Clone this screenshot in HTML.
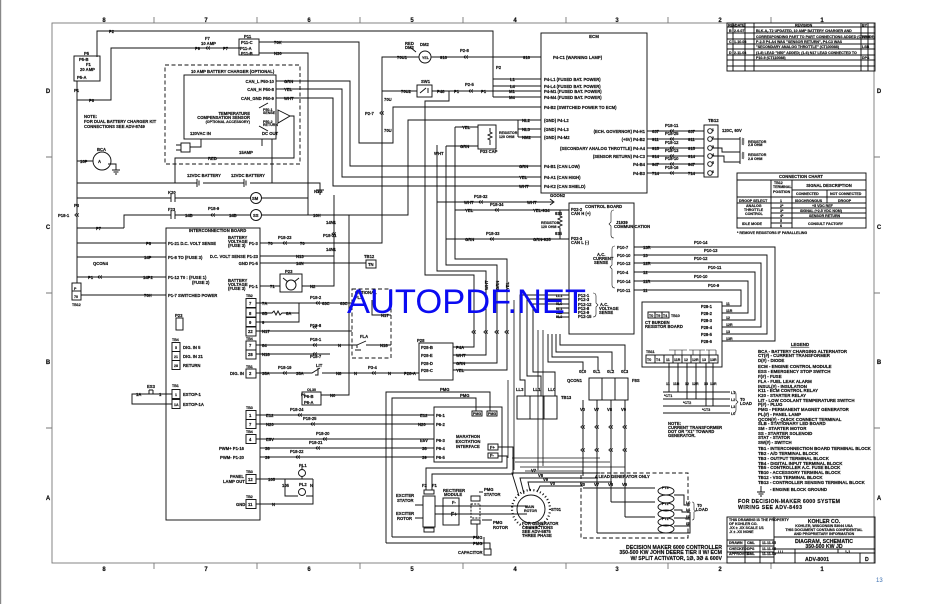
<!DOCTYPE html>
<html><head><meta charset="utf-8"><style>
html,body{margin:0;padding:0;background:#fff;}
svg{display:block;}
text{font-family:"Liberation Sans",sans-serif;font-weight:bold;font-size:4.2px;fill:#111;stroke:#111;stroke-width:0.18px;}
.s{font-size:3.6px;}
.m{font-size:5.2px;}
.l{font-size:4.4px;}
.g{font-size:6px;font-weight:bold;}
.wm{font-family:"Liberation Sans",sans-serif;font-weight:normal;font-size:34.5px;fill:#0b0bf2;stroke:none;}
.pn{font-size:6px;fill:#3b6fb0;font-weight:normal;stroke:none;}
</style></head><body>
<svg width="935" height="604" viewBox="0 0 935 604" xmlns="http://www.w3.org/2000/svg">
<defs>
<symbol id="fz" viewBox="-3 -2 6 4" width="6" height="4" overflow="visible"><path d="M-0.5,-1.6 L-2.2,0 L-0.5,1.6 M1.8,-1.6 L0.1,0 L1.8,1.6" fill="none" stroke="#111" stroke-width="0.8"/></symbol>
</defs>
<rect width="935" height="604" fill="#fff"/>
<line x1="0.6" y1="0" x2="0.6" y2="604" stroke="#888" stroke-width="1.2"/>
<!-- frame -->
<g stroke="#777" stroke-width="0.9" fill="none">
<rect x="52" y="23" width="822" height="540"/>
<path d="M154,17V23M257,17V23M360,17V23M463,17V23M566,17V23M668,17V23M771,17V23"/>
<path d="M154,563V569M257,563V569M360,563V569M463,563V569M566,563V569M668,563V569M771,563V569"/>
<path d="M46,157H52M46,293H52M46,428H52M874,157H880M874,293H880M874,428H880"/>
</g>
<g class="g" text-anchor="middle">
<text x="104" y="22" class="g">8</text><text x="206" y="22" class="g">7</text><text x="309" y="22" class="g">6</text><text x="412" y="22" class="g">5</text><text x="515" y="22" class="g">4</text><text x="617" y="22" class="g">3</text><text x="720" y="22" class="g">2</text><text x="822" y="22" class="g">1</text>
<text x="104" y="571" class="g">8</text><text x="206" y="571" class="g">7</text><text x="309" y="571" class="g">6</text><text x="412" y="571" class="g">5</text><text x="515" y="571" class="g">4</text><text x="617" y="571" class="g">3</text><text x="720" y="571" class="g">2</text><text x="822" y="571" class="g">1</text>
<text x="48" y="93" class="g">D</text><text x="48" y="229" class="g">C</text><text x="48" y="364" class="g">B</text><text x="48" y="500" class="g">A</text>
<text x="879" y="93" class="g">D</text><text x="879" y="229" class="g">C</text><text x="879" y="364" class="g">B</text><text x="879" y="500" class="g">A</text>
</g>

<g stroke="#111" stroke-width="0.95" fill="none">
<!-- top-left wiring -->
<path d="M97,57V31H493V97"/>
<rect x="74" y="56" width="26" height="25"/>
<path d="M77,81V283"/>
<path d="M77,100H111V48H240"/>
<rect x="239" y="39" width="20" height="16"/>
<path d="M259,42H359V143H393V107H541"/>
<path d="M259,53H308V215"/>
<!-- battery charger -->
<rect x="165" y="65" width="135" height="99" stroke-dasharray="4,2.5"/>
<rect x="184" y="75" width="92" height="64"/>
<path d="M276,81H350V166H541"/>
<path d="M276,89H342V177H541"/>
<path d="M276,98H333V186H541"/>
<path d="M259,108L268,103M259,126L268,131" />
<path d="M278,110L290,116L278,123Z"/>
<path d="M290,116H294V158H175V183"/>
<path d="M262,139V146M272,139V183"/>
<path d="M201,139V147H190"/>
<rect x="181" y="143" width="9" height="9"/>
<path d="M176,145H181M176,150H181"/>
<!-- battery / SM / SS lines -->
<path d="M77,183H197M203,183H244M250,183H320V190"/>
<path d="M197,179V187M199,180.5V185.5M244,179V187M246,180.5V185.5"/>
<path d="M316,190H324M317.5,192H322.5M319,194H321"/>
<path d="M77,198H171M175,198H250M262,198H308"/>
<path d="M171,194V202M175,194V202"/>
<circle cx="256" cy="198" r="5.5"/>
<path d="M124,228V215H171M175,215H250M262,215H408V120H541"/>
<path d="M171,211V219M175,211V219"/>
<circle cx="256" cy="215" r="5.5"/>
<path d="M77,228H124"/>
<circle cx="102" cy="161" r="9"/>
<path d="M77,161H93M108,164H116V170M112,170H120M113.5,172H118.5M115,174H117"/>
<!-- interconnection board -->
<rect x="166" y="228" width="94" height="292"/>
<path d="M77,243H166M77,257H166M77,277H166M81,295H166"/>
<rect x="72" y="283" width="9" height="17"/><path d="M72,291H81"/>
<path d="M260,243H382V57H419M431,57H541"/>
<circle cx="425" cy="57" r="6"/>
<path d="M410,47L416,52"/>
<path d="M260,256H334M260,263H366"/>
<rect x="366" y="260" width="10" height="8"/>
<rect x="280" y="274" width="22" height="18"/>
<circle cx="291" cy="285" r="5"/>
<path d="M283,278L288,282M299,278L294,282"/>
<path d="M260,286H280M302,286H334V195"/>
<path d="M333,98V186"/>
<path d="M321,395H349V215"/>
<!-- TB2/TB4/TB1 right side -->
<rect x="246" y="298.5" width="10" height="9"/><rect x="246" y="308" width="10" height="9"/><rect x="246" y="317.5" width="10" height="9"/><rect x="246" y="327" width="10" height="9"/>
<rect x="246" y="341" width="10" height="9"/><rect x="246" y="350" width="10" height="9"/>
<rect x="246" y="369" width="10" height="9"/>
<path d="M256,303H299M299,303H352M256,313H272l2,-2 2,4 2,-4 2,4 2,-2H299M256,322H299V303"/>
<path d="M256,331H352M256,345H357M366,345H391M256,354H330"/>
<path d="M357,345l9,-4M357,345v3M355,350h6"/>
<path d="M256,373H312l8,-5M322,373H419M318,368v7h-3"/>
<rect x="352" y="289" width="39" height="69" stroke-dasharray="4,2.5"/>
<path d="M372,300V315H391"/>
<!-- TB4 / TB1 inside board -->
<rect x="172" y="342.5" width="8" height="9"/><rect x="172" y="351.5" width="8" height="9"/><rect x="172" y="360.5" width="8" height="9"/>
<rect x="172" y="389.5" width="8" height="9"/><rect x="172" y="399.5" width="8" height="9"/>
<rect x="176" y="318" width="7" height="12"/>
<path d="M172,394H155M147,394H132V404H172M147,394h8M149,390v4M153,390v4M149,390h4"/>
<!-- TB3 etc -->
<rect x="246" y="410.5" width="10" height="9"/><rect x="246" y="419.5" width="10" height="9"/>
<rect x="246" y="434.5" width="10" height="9"/>
<rect x="246" y="474.5" width="10" height="9"/>
<rect x="246" y="499.5" width="10" height="9"/>
<path d="M256,415H434M256,424H434M256,439H434M260,448H434M260,457H434"/>
<path d="M256,479H302V476M302,470V466M285,479V496H298M306,496H313V479M302,479H313M256,504H313V496"/>
<circle cx="302" cy="473" r="3.5"/><circle cx="302" cy="492" r="3.5"/>
<!-- PMG / Marathon -->
<path d="M386,543V392H490V411M392,537V398H476V411"/>
<rect x="434" y="407" width="68" height="55"/>
<rect x="472" y="411" width="10" height="5"/><rect x="487" y="411" width="10" height="5"/>
<rect x="488" y="444" width="10" height="6"/><rect x="488" y="453" width="10" height="5"/>
<path d="M498,447H513V474H432V490M498,456H507V468H426V490"/>
<rect x="424" y="490" width="10" height="4"/>
<rect x="423" y="496" width="12" height="31"/>
<rect x="424" y="528" width="10" height="4"/>
<rect x="443" y="498" width="16" height="27"/>
<rect x="471" y="496" width="9" height="5"/>
<rect x="471" y="504" width="9" height="14" stroke-dasharray="2,1.2"/>
<rect x="471" y="520" width="9" height="4"/>
<path d="M435,506H527M435,514H527"/>
<path d="M386,543H490V549M392,537H477V524M484,537V549"/>
<rect x="484" y="549" width="7" height="6"/>
<path d="M415,505H423M415,518H423M479,492H483M482,520H492"/>
<circle cx="531" cy="509" r="14"/>
<circle cx="531" cy="509" r="19" stroke-dasharray="1,2.4" stroke-width="2.2"/>
<path d="M519,496L512,473H600M524,494L520,478H598M530,491L528,482H612M537,492L540,486H583"/>
<!-- CAN & ECM region -->
<path d="M382,91H417M432,91H493M493,79H541M493,86H541M493,91H541M493,97H541"/>
<rect x="417" y="85" width="15" height="12"/><path d="M420,93l6,-5M428,88v5"/>
<path d="M449,91V101H425V275H474V347H453"/>
<path d="M437,145V271H486V355H453"/>
<path d="M446,146V265H497V363H453"/>
<path d="M455,127V259H507V370H453"/>
<path d="M455,127H478M446,146H478"/>
<rect x="478" y="125" width="18" height="24"/>
<path d="M490,128v4l2,1 -4,2 4,2 -4,2 2,1v5"/>
<path d="M518,120V137M518,129H541M518,137H541"/>
<rect x="541" y="33" width="106" height="160"/>
<path d="M437,202H553M550,199l4,3 -4,3"/>
<path d="M455,210H569M446,239H569M560,210V216l2,1 -4,2 4,2 -4,2 4,2 -4,2 2,1V239"/>
<rect x="569" y="203" width="65" height="131"/>
<path d="M614,210q-3,0 -3,3v9l-2,2 2,2v9q0,3 3,3" stroke-width="0.6"/>
<path d="M615,246q-3,0 -3,3v16l-2,2 2,2v16q0,3 3,3" stroke-width="0.6"/>
<path d="M593,293q3,0 3,3v7l2,2 -2,2v7q0,3 -3,3" stroke-width="0.6"/>
<!-- P28 box -->
<rect x="419" y="343" width="34" height="37"/>
<path d="M419,373H412"/>
<!-- TB12 -->
<path d="M647,131H704M647,139H704M647,148H704M647,156H704M647,164H704M647,173H704"/>
<rect x="704" y="125" width="14" height="52"/>
<circle cx="710" cy="131" r="2.3"/><circle cx="710" cy="139" r="2.3"/><circle cx="710" cy="148" r="2.3"/><circle cx="710" cy="156" r="2.3"/><circle cx="710" cy="164" r="2.3"/><circle cx="710" cy="173" r="2.3"/>
<path d="M712,139H740M712,148H722V152H740M712,156H724V162H740M740,137V164"/>
<path d="M742,138l2,1 -2,1 2,1 -2,1 2,1 -2,1 2,1M742,152l2,1 -2,1 2,1 -2,1 2,1 -2,1 2,1" stroke-width="0.6"/>
<!-- connection chart -->
<rect x="737" y="173" width="129" height="55"/>
<path d="M737,180H866M771,180V228M792,180V228M792,190H866M737,197H866M827,190V203M737,203H866M771,208H866M771,213H866M737,218H866M771,223H792"/>
<!-- revision table -->
<rect x="727" y="23" width="148" height="48"/>
<path d="M727,27H875M727,33H875M727,39H875M727,44H875M727,49H875M727,55H875M727,60H875M727,66H875M733,23V71M745,23V71M754,23V71M861,23V71M868,23V71"/>
<!-- AC current sense wires -->
<path d="M634,247H775V341H722M634,255H767V334H722M634,263H761V327H722M634,272H755V320H722M634,281H748V313H722M634,290H741V306H722"/>
<rect x="642" y="302" width="80" height="65"/>
<rect x="648" y="312" width="7" height="6"/><rect x="655" y="312" width="7" height="6"/><rect x="662" y="312" width="7" height="6"/>
<rect x="646" y="355" width="72" height="8"/>
<path d="M655,355V363M664,355V363M673,355V363M682,355V363M691,355V363M700,355V363M709,355V363"/>
<path d="M669,350h18M675,350V355M682,350V355M689,350h16M693,350V355M700,350V355M706,350h10M709,350V355M716,350V355" stroke-width="0.6"/>
<path d="M669,363V392M678,363V392M687,363V399M696,363V399M706,363V406M713,363V406"/>
<path d="M663,392H730M663,399H730M663,406H730M663,413H730"/>
<path d="M733,391q3,0 3,3v6l2,2 -2,2v6q0,3 -3,3" stroke-width="0.6"/>
<!-- AC voltage sense leads -->
<path d="M569,295H520V380H525V396M569,299H527V376H541V396M569,304H533V372H555V396"/>
<path d="M569,308H556M569,313H556M569,317H556"/>
<path d="M560,334V345H625V371M556,334V352H612V371M552,334V357H598V371M548,334V362H583V371"/>
<path d="M514,300V470M538,330V470M543,330V466M508,380V458" stroke-width="0.8"/>
<rect x="517" y="396" width="40" height="23"/>
<path d="M530,396V419M544,396V419"/>
<rect x="589" y="378" width="39" height="22"/>
<path d="M602,378V400M615,378V400"/>
<path d="M583,400V476M597,400V533M611,400V502M625,400V517"/>
<path d="M583,488H655M597,533H690V512M611,502H655M625,517H655"/>
<path d="M512,458H600M515,462H610M520,467H625M525,471H583" stroke-width="0.8"/>
<rect x="581" y="473" width="107" height="65" stroke-dasharray="4,2.5"/>
<ellipse cx="666" cy="491" rx="8" ry="4"/><ellipse cx="666" cy="499" rx="8" ry="4"/>
<ellipse cx="666" cy="507" rx="8" ry="4"/><ellipse cx="666" cy="514" rx="8" ry="4"/>
<ellipse cx="666" cy="522" rx="8" ry="4"/><ellipse cx="666" cy="529" rx="8" ry="4"/>
<path d="M674,495H684V505H690M674,510H682V512H690M674,518H686V519H690M674,526H684V526H690"/>
<path d="M692,502q2,0 2,2v6l2,1 -2,1v6q0,2 -2,2" stroke-width="0.6"/>
<!-- title block -->
<rect x="727" y="517" width="148" height="46"/>
<path d="M774,517V563M774,537H875M774,549H875M727,540H774M727,546H774M727,552H774M727,557H774M745,540V563M760,540V563M774,553H875M795,549V563M838,549V553M860,553V563"/>
<path d="M761,486V492M757,492H765M758.5,494H763.5M760,496H762"/>
</g>

<!-- fuses -->
<g>
<use href="#fz" x="205" y="46"/><use href="#fz" x="97" y="275"/><use href="#fz" x="210" y="213"/><use href="#fz" x="282" y="241"/><use href="#fz" x="315" y="301"/><use href="#fz" x="312" y="325"/><use href="#fz" x="312" y="343"/><use href="#fz" x="312" y="352"/><use href="#fz" x="282" y="371"/><use href="#fz" x="371" y="371"/><use href="#fz" x="297" y="413"/><use href="#fz" x="310" y="422"/><use href="#fz" x="322" y="437"/><use href="#fz" x="315" y="446"/><use href="#fz" x="295" y="455"/><use href="#fz" x="463" y="55"/><use href="#fz" x="468" y="89"/><use href="#fz" x="478" y="200"/><use href="#fz" x="494" y="208"/><use href="#fz" x="489" y="237"/><use href="#fz" x="669" y="129"/><use href="#fz" x="669" y="137"/><use href="#fz" x="669" y="146"/><use href="#fz" x="669" y="154"/><use href="#fz" x="669" y="162"/><use href="#fz" x="669" y="171"/>
<use href="#fz" x="379" y="111"/><use href="#fz" x="331" y="232"/><use href="#fz" x="74" y="213"/>
<use href="#fz" x="471" y="330"/><use href="#fz" x="483" y="330"/><use href="#fz" x="494" y="330"/><use href="#fz" x="504" y="330"/>
<use href="#fz" x="580" y="425"/><use href="#fz" x="594" y="425"/><use href="#fz" x="608" y="425"/><use href="#fz" x="622" y="425"/>
<use href="#fz" x="580" y="448"/><use href="#fz" x="594" y="448"/><use href="#fz" x="608" y="448"/><use href="#fz" x="622" y="448"/>
</g>

<!-- texts: top left -->
<text x="109" y="33">P2</text>
<text x="84" y="55">P5</text><text x="79" y="61">P5-B</text><text x="86" y="66">F1</text><text x="80" y="71">20 AMP</text><text x="77" y="79">P5-A</text>
<text x="74" y="92">P1</text><text x="89" y="102">P6</text>
<text x="195" y="50">P9</text><text x="205" y="40">F7</text><text x="201" y="45">10 AMP</text><text x="223" y="50">P7</text>
<text x="244" y="38">P11</text><text x="241" y="44">P11-C</text><text x="240" y="50">P11-A</text><text x="241" y="55">P11-B</text>
<text x="274" y="44">70K</text><text x="274" y="55">N30</text>
<text x="191" y="73">10 AMP BATTERY CHARGER (OPTIONAL)</text>
<text x="274" y="83" text-anchor="end">CAN_L  P50-10</text><text x="274" y="91" text-anchor="end">CAN_H  P50-8</text><text x="274" y="100" text-anchor="end">CAN_GND  P50-9</text>
<text x="284" y="83">GRN</text><text x="284" y="91">YEL</text><text x="284" y="100">WHT</text>
<text x="250" y="115" text-anchor="end">TEMPERATURE</text><text x="250" y="119" text-anchor="end">COMPENSATION SENSOR</text><text x="250" y="123" class="s" text-anchor="end">(OPTIONAL ACCESSORY)</text>
<text x="263" y="111" class="s">P50-1</text><text x="263" y="114" class="s">SENSE</text><text x="263" y="123" class="s">P50-2</text><text x="263" y="126" class="s">RETURN</text>
<text x="190" y="135">120VAC IN</text><text x="262" y="135">DC OUT</text>
<text x="84" y="118">NOTE:</text><text x="84" y="123">FOR DUAL BATTERY CHARGER KIT</text><text x="84" y="128">CONNECTIONS SEE ADV-8749</text>
<text x="208" y="160">RED</text><text x="239" y="154">15AMP</text>
<text x="97" y="151">BCA</text><text x="80" y="163">10P</text><text x="98" y="163">A</text>
<text x="187" y="177">12VDC BATTERY</text><text x="231" y="177">12VDC BATTERY</text>
<text x="168" y="194">K20</text><text x="252" y="200">SM</text>
<text x="168" y="211">F23</text><text x="185" y="217">14B</text><text x="208" y="210">P18-9</text><text x="229" y="217">14B</text><text x="253" y="217">SS</text>
<text x="313" y="217">10H</text><text x="318" y="193" text-anchor="middle">N30</text>
<text x="58" y="217">P18-1</text><text x="74" y="207">P3</text><text x="96" y="230">P7</text>
<text x="189" y="232">INTERCONNECTION BOARD</text>
<text x="146" y="245">P8</text><text x="144" y="259">14P</text><text x="88" y="279">P1</text><text x="93" y="265">QCON4</text><text x="143" y="279">14P2</text><text x="144" y="297">70H</text>
<text x="74" y="290" class="s">P</text><text x="74" y="298" class="s">70</text><text x="72" y="306" class="s">TB12</text>
<text x="168" y="245">P1-21 D.C. VOLT SENSE</text><text x="168" y="259">P1-8  TO (FUSE 3)</text><text x="168" y="279">P1-12 T0 : (FUSE 1)</text><text x="192" y="284">(FUSE 2)</text><text x="168" y="297">P1-7 SWITCHED POWER</text>
<text x="228" y="239">BATTERY</text><text x="228" y="243">VOLTAGE</text><text x="228" y="247">(FUSE 3)</text><text x="249" y="245">P1-3</text>
<text x="258" y="258" text-anchor="end">D.C. VOLT SENSE P1-23</text><text x="258" y="265" text-anchor="end">GND P1-5</text>
<text x="228" y="282">BATTERY</text><text x="228" y="286">VOLTAGE</text><text x="228" y="290">(FUSE 3)</text><text x="249" y="288">P1-1</text>
<text x="268" y="245">70</text><text x="278" y="239">P18-23</text><text x="300" y="245">70</text>
<text x="296" y="258">N13</text><text x="296" y="265">14N</text><text x="270" y="288">71</text><text x="310" y="288">N2</text>
<text x="364" y="258">TB12</text><text x="368" y="266">TN</text>
<text x="285" y="273">P23</text>
<text x="326" y="224">14N1</text><text x="323" y="237">P18-31</text><text x="326" y="251">14N1</text>
<text x="175" y="317">P23</text>
<text x="246" y="297" class="s">TB2</text><text x="249" y="305">7</text><text x="249" y="315">8</text><text x="249" y="324">9</text><text x="248" y="333">22</text>
<text x="246" y="340" class="s">TB4</text><text x="249" y="347">7</text><text x="248" y="356">28</text>
<text x="246" y="368" class="s">TB1</text><text x="249" y="375">2</text><text x="230" y="375">DIG. IN</text>
<text x="262" y="305">7A</text><text x="262" y="315">8B</text><text x="286" y="315">8A</text><text x="262" y="324">9</text><text x="262" y="333">N17</text>
<text x="310" y="299">P18-2</text><text x="322" y="305">63C</text><text x="340" y="305">63C</text>
<text x="310" y="327">P18-8</text><text x="262" y="347">84</text><text x="310" y="341">P18-1</text><text x="310" y="358">P18-7</text><text x="262" y="356">N18</text><text x="338" y="347">N</text>
<text x="262" y="375">35A</text><text x="278" y="369">P18-19</text><text x="296" y="375">35A</text><text x="316" y="367">LIT</text><text x="336" y="375">N8</text><text x="354" y="375">N</text><text x="368" y="369">P3-4</text><text x="388" y="375">N</text>
<text x="355" y="294">OPTIONAL</text><text x="355" y="299">FLS</text><text x="381" y="317">N17</text><text x="360" y="338">FLA</text><text x="380" y="347">N18</text>
<text x="172" y="341" class="s">TB4</text><text x="175" y="349" class="s">5</text><text x="174" y="358" class="s">21</text><text x="174" y="367" class="s">28</text>
<text x="183" y="349">DIG. IN 5</text><text x="183" y="358">DIG. IN 21</text><text x="183" y="367">RETURN</text>
<text x="172" y="387" class="s">TB1</text><text x="175" y="396" class="s">1</text><text x="174" y="406" class="s">1A</text>
<text x="183" y="396">ESTOP-1</text><text x="183" y="406">ESTOP-1A</text>
<text x="147" y="388">ES3</text><text x="136" y="396">1A</text><text x="159" y="396">1</text>
<text x="246" y="409" class="s">TB3</text><text x="249" y="417">1</text><text x="249" y="426">7</text>
<text x="246" y="433" class="s">TB4</text><text x="249" y="441">4</text>
<text x="266" y="417">E12</text><text x="290" y="411">P18-24</text><text x="266" y="426">N20</text><text x="303" y="420">P18-25</text>
<text x="266" y="441">E5V</text><text x="316" y="435">P18-20</text><text x="265" y="450">38</text><text x="309" y="444">P18-21</text><text x="265" y="459">39</text><text x="290" y="453">P18-22</text>
<text x="244" y="450" text-anchor="end">PWM+ P1-16</text><text x="244" y="459" text-anchor="end">PWM- P1-20</text>
<text x="246" y="473" class="s">TB3</text><text x="248" y="481">12</text><text x="230" y="478">PANEL</text><text x="223" y="483">LAMP OUT</text>
<text x="268" y="481">105</text><text x="299" y="467">PL1</text><text x="299" y="486">PL2</text><text x="282" y="487">105</text><text x="310" y="487">N</text>
<text x="246" y="498" class="s">TB2</text><text x="248" y="506">11</text><text x="236" y="506">GND</text><text x="272" y="506">N</text>
<text x="301" y="396" class="s">P6</text><text x="307" y="391" class="s">OL30</text><text x="304" y="398">P6-B</text><text x="304" y="404">P6-A</text><text x="330" y="397">N0</text>
<rect x="302" y="392" width="19" height="13" fill="none" stroke="#111" stroke-width="0.95"/>
<!-- PMG / marathon texts -->
<text x="440" y="391">PMG</text><text x="460" y="397">PMG</text>
<text x="420" y="417">E12</text><text x="418" y="426">N20</text><text x="420" y="442">E5V</text><text x="422" y="450">38</text><text x="422" y="459">39</text>
<text x="436" y="417">P6-1</text><text x="436" y="426">P6-2</text><text x="436" y="442">P6-3</text><text x="436" y="450">P6-4</text><text x="436" y="459">P6-5</text>
<text x="473" y="415" class="s">PMG</text><text x="488" y="415" class="s">PMG</text>
<text x="468" y="438" text-anchor="middle">MARATHON</text><text x="468" y="443" text-anchor="middle">EXCITATION</text><text x="468" y="448" text-anchor="middle">INTERFACE</text>
<text x="490" y="449">F+</text><text x="490" y="457">F-</text>
<text x="422" y="487">F2</text><text x="432" y="487">F1</text>
<text x="396" y="497">EXCITER</text><text x="397" y="502">STATOR</text><text x="396" y="515">EXCITER</text><text x="397" y="520">ROTOR</text>
<text x="443" y="492">RECTIFIER</text><text x="444" y="496">MODULE</text><text x="452" y="504">F-</text><text x="451" y="516" class="m">F+</text>
<text x="484" y="491">PMG</text><text x="484" y="496">STATOR</text><text x="493" y="524">PMG</text><text x="493" y="529">ROTOR</text>
<text x="473" y="539">PMG</text><text x="473" y="545">PMG</text><text x="458" y="554">CAPACITOR</text>
<text x="525" y="508" class="s">MAIN</text><text x="524" y="512" class="s">ROTOR</text><text x="551" y="511">ST01</text>
<text x="531" y="472">V7</text><text x="538" y="477">V8</text><text x="543" y="481">V9</text><text x="550" y="485">V0</text>
<text x="522" y="525">FOR GENERATOR</text><text x="522" y="529">CONNECTIONS</text><text x="522" y="533">SEE ADV-5875</text><text x="522" y="537">THREE PHASE</text>
<!-- ECM area -->
<text x="405" y="45">RED</text><text x="405" y="49">DM2</text><text x="420" y="46">DM2</text><text x="422" y="59" class="s">YEL</text>
<text x="397" y="59">70U1</text><text x="440" y="59">916</text><text x="460" y="52">P2-8</text><text x="523" y="59">916</text>
<text x="553" y="59">P4-C1 (WARNING LAMP)</text>
<text x="401" y="93">70U2</text><text x="421" y="83">SW1</text><text x="437" y="93">P48</text><text x="454" y="93">P1</text><text x="465" y="86">P2-5</text><text x="481" y="93">P1</text>
<text x="496" y="69">P2</text>
<text x="510" y="81">L1</text><text x="510" y="88">L4</text><text x="509" y="93">M1</text><text x="509" y="99">M4</text>
<text x="544" y="81">P4-L1 (FUSED BAT. POWER)</text><text x="544" y="88">P4-L4 (FUSED BAT. POWER)</text><text x="544" y="93">P4-M1 (FUSED BAT. POWER)</text><text x="544" y="99">P4-M4 (FUSED BAT. POWER)</text>
<text x="544" y="109">P4-B2 (SWITCHED POWER TO ECM)</text>
<text x="384" y="101">70U</text><text x="365" y="115">P2-7</text><text x="384" y="132">70U</text>
<text x="522" y="122">NL2</text><text x="522" y="131">NL3</text><text x="522" y="139">NM2</text>
<text x="544" y="122">(GND) P4-L2</text><text x="544" y="131">(GND) P4-L3</text><text x="544" y="139">(GND) P4-M2</text>
<text x="594" y="38" text-anchor="middle" class="l">ECM</text>
<text x="645" y="133" text-anchor="end">(ECH. GOVERNOR) P4-H1</text><text x="645" y="141" text-anchor="end">(+5V) P4-B2</text><text x="645" y="150" text-anchor="end">(SECONDARY ANALOG THROTTLE) P4-A4</text><text x="645" y="158" text-anchor="end">(SENSOR RETURN) P4-C3</text><text x="645" y="166" text-anchor="end">P4-B4</text><text x="645" y="175" text-anchor="end">P4-B3</text>
<text x="519" y="168">GRN</text><text x="519" y="179">YEL</text><text x="519" y="188">WHT</text>
<text x="544" y="168">P4-B1 (CAN LOW)</text><text x="544" y="179">P4-A1 (CAN HIGH)</text><text x="544" y="188">P4-K2 (CAN SHIELD)</text>
<text x="462" y="129">YEL</text><text x="460" y="148">GRN</text><text x="480" y="153">P33 CAP</text><text x="499" y="134" class="s">RESISTOR</text><text x="499" y="138" class="s">120 OHM</text>
<text x="434" y="155">WHT</text>
<text x="464" y="204">WHT</text><text x="474" y="198">P18-32</text><text x="527" y="204">WHT</text><text x="550" y="197">GOON2</text>
<text x="465" y="212">YEL</text><text x="490" y="206">P18-34</text><text x="533" y="212">YEL-934</text>
<text x="465" y="241">GRN</text><text x="486" y="235">P18-33</text><text x="533" y="241">GRN-935</text>
<text x="555" y="215">934</text><text x="541" y="224" class="s">RESISTOR</text><text x="541" y="228" class="s">120 OHM</text><text x="555" y="235">935</text>
<text x="585" y="208">CONTROL BOARD</text><text x="571" y="211">P22-2</text><text x="571" y="215">CAN H (+)</text><text x="571" y="240">P22-3</text><text x="571" y="244">CAN L (-)</text>
<text x="616" y="224">J1939</text><text x="614" y="228">COMMUNICATION</text>
<text x="597" y="256">A.C.</text><text x="593" y="260">CURRENT</text><text x="594" y="264">SENSE</text>
<text x="617" y="249">P10-7</text><text x="617" y="257">P10-10</text><text x="617" y="265">P10-13</text><text x="617" y="274">P10-4</text><text x="617" y="283">P10-14</text><text x="617" y="292">P10-11</text>
<text x="643" y="249">13R</text><text x="643" y="257">13</text><text x="643" y="265">12R</text><text x="643" y="274">12</text><text x="643" y="283">11R</text><text x="643" y="292">11</text>
<text x="694" y="244">P10-14</text><text x="704" y="252">P10-13</text><text x="694" y="260">P10-12</text><text x="708" y="269">P10-11</text><text x="694" y="278">P10-10</text><text x="708" y="287">P10-9</text>
<text x="578" y="297">P12-1</text><text x="578" y="301">P12-3</text><text x="578" y="306">P12-12</text><text x="578" y="310">P12-8</text><text x="578" y="314">P12-9</text><text x="578" y="318">P12-15</text>
<text x="600" y="306">A.C.</text><text x="599" y="310">VOLTAGE</text><text x="599" y="314">SENSE</text>
<text x="556" y="297" class="s">LL1</text><text x="556" y="305" class="s">0L0</text><text x="556" y="310" class="s">0L1</text><text x="556" y="314" class="s">0L2</text><text x="556" y="318" class="s">0L3</text>
<text x="417" y="342">P28</text><text x="421" y="349">P28-B</text><text x="421" y="357">P28-E</text><text x="421" y="365">P28-D</text><text x="421" y="372">P28-C</text><text x="404" y="375">P28-A</text>
<text x="456" y="349">P4A</text><text x="456" y="357">WHT</text><text x="456" y="365">GRN</text><text x="456" y="372">YEL</text>
<text transform="translate(488,290) rotate(-90)">WHT</text><text transform="translate(499,290) rotate(-90)">GRN</text><text transform="translate(509,290) rotate(-90)">YEL</text>
<text x="516" y="391">LL3</text><text x="533" y="391">LL1</text><text x="548" y="391">LL0</text><text x="561" y="399">TB13</text>
<text x="579" y="373">0L0</text><text x="593" y="373">0L1</text><text x="607" y="373">0L2</text><text x="621" y="373">0L3</text>
<text x="567" y="382">QCON1</text><text x="632" y="382">F8S</text>
<text x="580" y="411">V0</text><text x="594" y="411">V7</text><text x="607" y="411">V8</text><text x="621" y="411">V9</text>
<text x="595" y="478">4 LEAD GENERATOR ONLY</text>
<text x="580" y="486">V0</text><text x="594" y="486">V7</text><text x="608" y="486">V8</text><text x="622" y="486">V9</text>
<text x="662" y="489" class="s">PT3</text><text x="662" y="505" class="s">PT2</text><text x="662" y="520" class="s">PT1</text>
<text x="686" y="504" class="s">L0</text><text x="686" y="511" class="s">L1</text><text x="686" y="518" class="s">L2</text><text x="686" y="525" class="s">L3</text>
<text x="697" y="507">T0</text><text x="696" y="511">LOAD</text>
<!-- TB12 right -->
<text x="708" y="122" class="l">TB12</text>
<text x="712" y="131" class="s">1</text><text x="712" y="139" class="s">2</text><text x="712" y="148" class="s">3</text><text x="712" y="156" class="s">4</text><text x="712" y="164" class="s">5</text><text x="712" y="173" class="s">6</text>
<text x="722" y="132">120C, 60V</text>
<text x="748" y="143" class="s">RESISTOR</text><text x="748" y="146" class="s">2.8 OHM</text><text x="748" y="156" class="s">RESISTOR</text><text x="748" y="160" class="s">2.8 OHM</text>
<text x="652" y="133">637</text><text x="652" y="141">911</text><text x="652" y="150">915</text><text x="652" y="158">914</text><text x="652" y="166">947</text><text x="652" y="175">714</text>
<text x="665" y="127">P18-11</text><text x="665" y="135">P18-25</text><text x="665" y="144">P18-12</text><text x="665" y="152">P18-13</text><text x="665" y="160">P18-10</text><text x="665" y="169">P18-16</text>
<text x="688" y="133">637</text><text x="688" y="141">911</text><text x="688" y="150">915</text><text x="688" y="158">914</text><text x="688" y="166">947</text><text x="688" y="175">714</text>
<!-- connection chart texts -->
<text x="801" y="178" text-anchor="middle">CONNECTION CHART</text>
<text x="774" y="184" class="s">TB12</text><text x="773" y="188" class="s">TERMINAL</text><text x="773" y="193" class="s">POSITION</text>
<text x="829" y="187" text-anchor="middle">SIGNAL DESCRIPTION</text>
<text x="796" y="195" class="s">CONNECTED</text><text x="830" y="195" class="s">NOT CONNECTED</text>
<text x="739" y="202" class="s">DROOP SELECT</text><text x="780" y="202" class="s">1</text><text x="795" y="202" class="s">ISOCHRONOUS</text><text x="838" y="202" class="s">DROOP</text>
<text x="746" y="207" class="s">ANALOG</text><text x="744" y="211" class="s">THROTTLE</text><text x="745" y="215" class="s">CONTROL</text>
<text x="780" y="207" class="s">2*</text><text x="780" y="212" class="s">3*</text><text x="780" y="217" class="s">4*</text>
<text x="812" y="207" class="s">+5 VDC REF</text><text x="800" y="212" class="s">SIGNAL (+2.5 VDC NOM)</text><text x="809" y="217" class="s">SENSOR RETURN</text>
<text x="742" y="225" class="s">IDLE MODE</text><text x="780" y="222" class="s">5</text><text x="780" y="227" class="s">6</text><text x="808" y="225" class="s">CONSULT FACTORY</text>
<text x="737" y="234" class="s">* REMOVE RESISTORS IF PARALLELING</text>
<!-- revision table texts -->
<text x="728" y="26.5" class="s">REV</text><text x="735" y="26.5" class="s">DATE</text><text x="795" y="26.5" class="s">REVISION</text><text x="862" y="26.5" class="s">BY</text>
<text x="729" y="32" class="s">B</text><text x="734" y="32" class="s">2-6-07</text><text x="756" y="32" class="s">BLK-A,-T2 UPDATED, 10 AMP BATTERY CHARGER AND</text>
<text x="756" y="38" class="s">CORRESPONDING PART TO PART CONNECTIONS ADDED (CT41009)</text><text x="862" y="38" class="s">APH</text>
<text x="729" y="43" class="s">C</text><text x="734" y="43" class="s">1-10-08</text><text x="756" y="43" class="s">P-2-5 P4-A4 WAS "SENSOR RETURN", P4-C3 WAS</text>
<text x="756" y="48" class="s">"SECONDARY ANALOG THROTTLE" (CT100088)</text><text x="862" y="48" class="s">LSB</text>
<text x="729" y="54" class="s">D</text><text x="734" y="54" class="s">2-11-08</text><text x="756" y="54" class="s">(1-8) LEAD "N50" ADDED; (1-6) N17 LEAD CONNECTED TO</text>
<text x="756" y="59" class="s">P10-9 (CT110088)</text><text x="862" y="59" class="s">DPS</text>
<!-- CT board -->
<text x="712" y="308" text-anchor="end">P28-1</text><text x="712" y="315" text-anchor="end">P28-2</text><text x="712" y="322" text-anchor="end">P28-3</text><text x="712" y="329" text-anchor="end">P28-4</text><text x="712" y="336" text-anchor="end">P28-5</text><text x="712" y="343" text-anchor="end">P28-6</text>
<text x="726" y="305" class="s">11</text><text x="726" y="312" class="s">11R</text><text x="726" y="319" class="s">12</text><text x="726" y="326" class="s">12R</text><text x="726" y="333" class="s">13</text><text x="726" y="340" class="s">13R</text>
<text x="649" y="317" class="s">T0</text><text x="656" y="317" class="s">T9</text><text x="663" y="317" class="s">T4</text><text x="671" y="317" class="s">TB10</text>
<text x="645" y="324">CT BURDEN</text><text x="645" y="328">RESISTOR BOARD</text>
<text x="646" y="353" class="s">TB11</text>
<text x="647" y="361" class="s">T0</text><text x="656" y="361" class="s">T4</text><text x="666" y="361" class="s">11</text><text x="674" y="361" class="s">11R</text><text x="684" y="361" class="s">12</text><text x="692" y="361" class="s">12R</text><text x="702" y="361" class="s">13</text><text x="710" y="361" class="s">13R</text>
<text x="666" y="385" class="s">11</text><text x="673" y="385" class="s">11R</text><text x="685" y="385" class="s">12</text><text x="692" y="385" class="s">12R</text><text x="704" y="385" class="s">13</text><text x="710" y="385" class="s">13R</text>
<text x="664" y="397" class="s">*CT1</text><text x="683" y="404" class="s">*CT2</text><text x="702" y="411" class="s">*CT3</text>
<text x="731" y="394" class="s">L1</text><text x="731" y="401" class="s">L2</text><text x="731" y="408" class="s">L3</text><text x="731" y="415" class="s">L0</text>
<text x="740" y="401">T0</text><text x="740" y="405">LOAD</text>
<text x="668" y="425">NOTE:</text><text x="668" y="429">CURRENT TRANSFORMER</text><text x="668" y="433">DOT OR "X1" TOWARD</text><text x="668" y="437">GENERATOR.</text>
<!-- legend -->
<text x="800" y="346" text-anchor="middle" class="l" text-decoration="underline">LEGEND</text>
<g class="l">
<text x="758" y="353" class="l">BCA - BATTERY CHARGING ALTERNATOR</text>
<text x="758" y="357" class="l">CT(#) - CURRENT TRANSFORMER</text>
<text x="758" y="362" class="l">D(#) - DIODE</text>
<text x="758" y="368" class="l">ECM - ENGINE CONTROL MODULE</text>
<text x="758" y="373" class="l">ESS - EMERGENCY STOP SWITCH</text>
<text x="758" y="378" class="l">F(#) - FUSE</text>
<text x="758" y="383" class="l">FLA - FUEL LEAK ALARM</text>
<text x="758" y="388" class="l">INSUL(#) - INSULATION</text>
<text x="758" y="392" class="l">K11 - ECM CONTROL RELAY</text>
<text x="758" y="397" class="l">K20 - STARTER RELAY</text>
<text x="758" y="402" class="l">LIT - LOW COOLANT TEMPERATURE SWITCH</text>
<text x="758" y="406" class="l">P(#) - PLUG</text>
<text x="758" y="411" class="l">PMG - PERMANENT MAGNET GENERATOR</text>
<text x="758" y="416" class="l">PL(#) - PANEL LAMP</text>
<text x="758" y="421" class="l">QCON(#) - QUICK CONNECT TERMINAL</text>
<text x="758" y="425" class="l">SLB - STATIONARY LED BOARD</text>
<text x="758" y="430" class="l">SM - STARTER MOTOR</text>
<text x="758" y="435" class="l">SS - STARTER SOLENOID</text>
<text x="758" y="439" class="l">STAT - STATOR</text>
<text x="758" y="444" class="l">SW(#) - SWITCH</text>
<text x="758" y="450" class="l">TB1 - INTERCONNECTION BOARD TERMINAL BLOCK</text>
<text x="758" y="455" class="l">TB2 - A/D TERMINAL BLOCK</text>
<text x="758" y="460" class="l">TB3 - OUTPUT TERMINAL BLOCK</text>
<text x="758" y="465" class="l">TB4 - DIGITAL INPUT TERMINAL BLOCK</text>
<text x="758" y="469" class="l">TB5 - CONTROLLER A.C. FUSE BLOCK</text>
<text x="758" y="474" class="l">TB10 - ACCESSORY TERMINAL BLOCK</text>
<text x="758" y="479" class="l">TB12 - VSG TERMINAL BLOCK</text>
<text x="758" y="484" class="l">TB13 - CONTROLLER SENSING TERMINAL BLOCK</text>
<text x="770" y="491" class="l">- ENGINE BLOCK GROUND</text>
</g>
<text x="738" y="503" class="m" textLength="102">FOR DECISION-MAKER 6000 SYSTEM</text>
<text x="738" y="509" class="m" textLength="64">WIRING SEE ADV-8493</text>
<!-- bottom caption -->
<text x="722" y="549" class="m" text-anchor="end">DECISION MAKER 6000 CONTROLLER</text>
<text x="722" y="554" class="m" text-anchor="end">350-500 KW JOHN DEERE TIER II W/ ECM</text>
<text x="722" y="560" class="m" text-anchor="end">W/ SPLIT ACTIVATOR, 1Ø, 3Ø &amp; 600V</text>
<!-- title block texts -->
<text x="729" y="521" class="s">THIS DRAWING IS THE PROPERTY</text><text x="729" y="525" class="s">OF KOHLER CO.</text><text x="729" y="529" class="s">.XX ± .XX  SCALE 1/1</text><text x="729" y="533" class="s">.X ± .XX   NONE</text>
<text x="729" y="544" class="s">DRAWN</text><text x="747" y="544" class="s">CML</text><text x="762" y="544" class="s">11-11-05</text>
<text x="729" y="550" class="s">CHECKED</text><text x="747" y="550" class="s">DPS</text><text x="762" y="550" class="s">11-11-05</text>
<text x="729" y="555" class="s">APPROVED</text><text x="747" y="555" class="s">CML</text><text x="762" y="555" class="s">11-11-05</text>
<text x="824" y="523" text-anchor="middle" class="m">KOHLER CO.</text>
<text x="824" y="527" text-anchor="middle" class="s">KOHLER, WISCONSIN 53044 USA</text>
<text x="824" y="531" text-anchor="middle" class="s">THIS DOCUMENT CONTAINS CONFIDENTIAL</text>
<text x="824" y="535" text-anchor="middle" class="s">AND PROPRIETARY INFORMATION</text>
<text x="824" y="543" text-anchor="middle" class="m">DIAGRAM, SCHEMATIC</text>
<text x="824" y="548" text-anchor="middle" class="m">350-500 KW JD</text>
<text x="778" y="553" class="s">/ / /</text><text x="845" y="553" class="s">1-1</text>
<text x="817" y="561" text-anchor="middle" class="m">ADV-8001</text><text x="865" y="561" class="m">D</text>
<!-- page number -->
<text x="876" y="582" class="pn">13</text>
<!-- watermark -->
<text x="347" y="313" class="wm" textLength="239" lengthAdjust="spacingAndGlyphs">AUTOPDF.NET</text>
</svg>
</body></html>
